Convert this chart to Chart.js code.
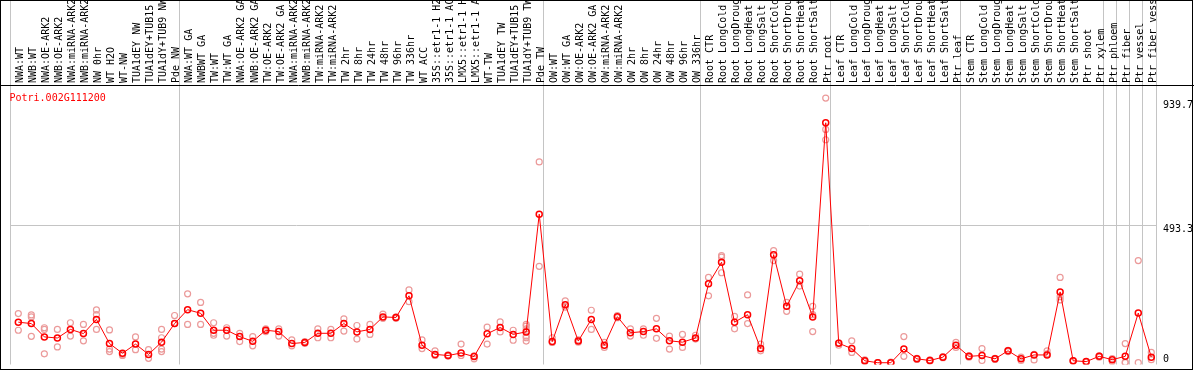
<!DOCTYPE html>
<html>
<head>
<meta charset="utf-8">
<script src="https://cdn.jsdelivr.net/npm/chart.js@4/dist/chart.umd.min.js"></script>
<style>
  html, body { margin: 0; padding: 0; background: #fff; }
</style>
</head>
<body>
<canvas id="exprChart" width="1194" height="370"></canvas>
<script>
const geneName = "Potri.002G111200";

const samples = [
    "NWA:WT", "NWB:WT", "NWA:OE-ARK2", "NWB:OE-ARK2", "NWA:miRNA-ARK2", "NWB:miRNA-ARK2",
    "NW 0hr", "WT H2O", "WT-NW", "TUA1dEY NW", "TUA1dEY+TUB15 NW", "TUA1dY+TUB9 NW", "Pde NW",
    "NWA:WT GA", "NWBWT GA", "TW:WT", "TW:WT GA", "NWA:OE-ARK2 GA", "NWB:OE-ARK2 GA",
    "TW:OE-ARK2", "TW:OE-ARK2 GA", "NWA:miRNA-ARK2", "NWB:miRNA-ARK2", "TW:miRNA-ARK2", "TW:miRNA-ARK2",
    "TW 2hr", "TW 8hr", "TW 24hr", "TW 48hr", "TW 96hr", "TW 336hr", "WT ACC",
    "35S::etr1-1 H2O", "35S::etr1-1 ACC", "LMX5::etr1-1 H2O", "LMX5::etr1-1 ACC",
    "WT-TW", "TUA1dEY TW", "TUA1dEY+TUB15 TW", "TUA1dY+TUB9 TW", "Pde TW",
    "OW:WT", "OW:WT GA", "OW:OE-ARK2", "OW:OE-ARK2 GA", "OW:miRNA-ARK2", "OW:miRNA-ARK2",
    "OW 2hr", "OW 8hr", "OW 24hr", "OW 48hr", "OW 96hr", "OW 336hr",
    "Root CTR", "Root LongCold", "Root LongDrought", "Root LongHeat", "Root LongSalt",
    "Root ShortCold", "Root ShortDrought", "Root ShortHeat", "Root ShortSalt", "Ptr root",
    "Leaf CTR", "Leaf LongCold", "Leaf LongDrought", "Leaf LongHeat", "Leaf LongSalt",
    "Leaf ShortCold", "Leaf ShortDrought", "Leaf ShortHeat", "Leaf ShortSalt", "Ptr leaf",
    "Stem CTR", "Stem LongCold", "Stem LongDrought", "Stem LongHeat", "Stem LongSalt",
    "Stem ShortCold", "Stem ShortDrought", "Stem ShortHeat", "Stem ShortSalt", "Ptr shoot", "Ptr xylem",
    "Ptr phloem", "Ptr fiber", "Ptr vessel", "Ptr fiber vessel"
];

// index of the first sample of each group (88 = end)
const groupStarts = [0, 13, 41, 53, 63, 73, 84, 85, 86, 87, 88];

const means = [
    146, 141, 93, 89, 120, 105, 156, 69, 34, 67, 30, 74, 141,
    191, 178, 117, 117, 94, 77, 117, 112, 69, 73, 106, 106, 141, 111, 120, 165, 163, 241,
    63, 30, 26, 35, 22, 104, 127, 102, 111, 535,
    76, 209, 78, 156, 63, 166, 108, 112, 122, 79, 74, 89,
    284, 362, 146, 173, 51, 389, 203, 295, 165, 864,
    70, 51, 7, 0, 0, 49, 14, 8, 20, 63,
    23, 26, 14, 43, 14, 28, 28, 255, 7, 4, 23,
    11, 23, 179, 20
];

const replicates = [
    [177, 117], [172, 165, 95], [126, 120, 32], [120, 57], [144, 96], [138, 79], [190, 173, 120],
    [118, 49, 40], [30, 26], [93, 47], [47, 16], [120, 90, 49, 40], [170, 141],
    [248, 138], [217, 138], [144, 106, 99], [126, 96], [106, 76], [94, 61], [122, 112], [122, 96],
    [82, 61], [76, 70], [122, 90], [120, 90], [158, 114], [134, 85], [138, 102], [175, 160],
    [165, 160], [262, 220], [82, 51], [43, 26], [28, 24], [67, 26], [14, 25], [128, 67],
    [147, 111], [117, 81], [138, 132, 122, 96, 90, 78], [723, 347],
    [90, 73], [223, 200], [82, 74], [189, 120], [73, 55], [170, 162], [122, 96], [122, 99],
    [160, 88], [96, 49], [102, 55], [99, 85],
    [307, 241], [386, 380, 324], [167, 122], [244, 141], [67, 43], [404, 368], [217, 185],
    [319, 276], [203, 173, 112], [953, 840, 803],
    [63, 72], [79, 37], [10, 4], [0, 0], [0, 2], [94, 23], [16, 12], [10, 6], [22, 18], [73, 55],
    [25, 20], [51, 8], [16, 12], [45, 40], [20, 8], [30, 10], [43, 32], [307, 238, 226],
    [8, 5], [4, 2], [25, 20],
    [15, 4], [69, 2, 0], [368, 0], [37, 11]
];

const yTicks = [0, 493.3, 939.7];

const mono = "'DejaVu Sans Mono', 'Liberation Mono', monospace";

// one dataset per replicate slot, aligned with the samples
let maxReps = Math.max(...replicates.map(r => r.length));
let repDatasets = [];
for (let k = 0; k < maxReps; k++) {
    repDatasets.push({
        label: "rep" + (k + 1),
        data: replicates.map(r => (r[k] === undefined ? null : r[k])),
        showLine: false,
        pointRadius: 3,
        pointBorderWidth: 1.2,
        pointBorderColor: "#eb9a9a",
        pointBackgroundColor: "rgba(0,0,0,0)",
        order: 1
    });
}

const framePlugin = {
    id: "frame",
    beforeDatasetsDraw(chart) {
        chart.ctx.save();
        chart.ctx.translate(1.8, 0);
    },
    afterDatasetsDraw(chart) {
        chart.ctx.restore();
    },
    afterDraw(chart) {
        let ctx = chart.ctx;
        ctx.save();
        ctx.strokeStyle = "#000";
        ctx.lineWidth = 1;
        ctx.strokeRect(0.5, 0.5, 1192, 369);
        ctx.beginPath();
        ctx.moveTo(0, 85.5);
        ctx.lineTo(1194, 85.5);
        ctx.stroke();
        ctx.fillStyle = "#ff0000";
        ctx.font = "10px " + mono;
        ctx.textBaseline = "alphabetic";
        ctx.fillText(geneName, 9.5, 100.7);
        ctx.restore();
    }
};

new Chart(document.getElementById("exprChart"), {
    type: "line",
    data: {
        labels: samples,
        datasets: [
            {
                label: "mean",
                data: means,
                borderColor: "#ff0000",
                borderWidth: 1,
                pointRadius: 3,
                pointBorderWidth: 1.5,
                pointBorderColor: "#ff0000",
                pointBackgroundColor: "rgba(0,0,0,0)",
                tension: 0,
                order: 0
            },
            ...repDatasets
        ]
    },
    options: {
        responsive: false,
        animation: false,
        events: [],
        layout: { padding: { left: 10, top: 0, right: 0, bottom: 1 } },
        plugins: {
            legend: { display: false },
            tooltip: { enabled: false }
        },
        scales: {
            x: {
                position: "top",
                offset: true,
                grid: {
                    offset: true,
                    drawTicks: true,
                    tickLength: 86,
                    lineWidth: 1,
                    color: ctx => (ctx.index === undefined || groupStarts.includes(ctx.index)) ? "#c4c4c4" : "rgba(0,0,0,0)"
                },
                border: { display: false },
                ticks: {
                    autoSkip: false,
                    minRotation: 90,
                    maxRotation: 90,
                    padding: -83,
                    labelOffset: 16,
                    color: "#000",
                    font: { family: mono, size: 10 }
                },
                afterFit: s => {
                    s.height = 86;
                    s.paddingLeft = 0;
                    s.paddingRight = 0;
                }
            },
            y: {
                position: "right",
                min: -6.4,
                max: 996.5,
                afterBuildTicks: s => { s.ticks = yTicks.map(v => ({ value: v })); },
                grid: {
                    drawTicks: false,
                    color: ctx => (ctx.tick && ctx.tick.value === 493.3) ? "#c4c4c4" : "rgba(0,0,0,0)"
                },
                border: { display: false },
                ticks: {
                    padding: 7,
                    labelOffset: 4,
                    color: "#000",
                    font: ctx => ({ family: mono, size: 10, lineHeight: (ctx.tick && ctx.tick.value === 0) ? 1.4 : 1.2 }),
                    callback: v => v === 0 ? ["0", ""] : String(v)
                },
                afterFit: s => {
                    s.width = 38;
                    s.paddingTop = 0;
                    s.paddingBottom = 0;
                }
            }
        }
    },
    plugins: [framePlugin]
});
</script>
</body>
</html>
